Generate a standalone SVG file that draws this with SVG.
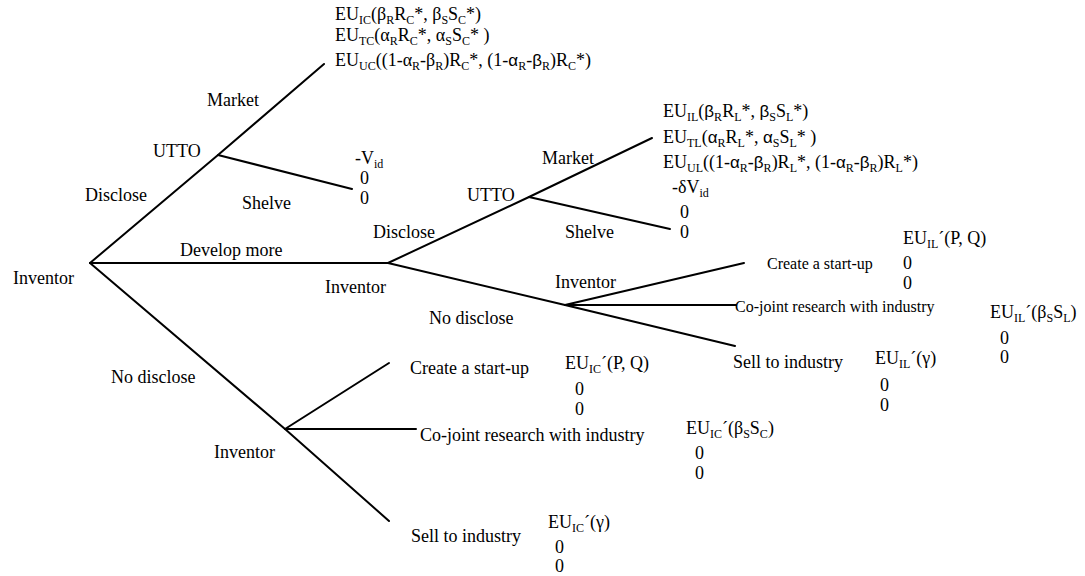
<svg xmlns="http://www.w3.org/2000/svg" width="1085" height="576" viewBox="0 0 1085 576">
<style>
.t{font-family:"Liberation Serif","Times New Roman",serif;font-size:18px;fill:#000}
.sm{font-size:16px}
.b{font-size:12px}
.g{font-family:"Liberation Sans",Arial,sans-serif;font-size:17px}
.e{stroke:#000;stroke-width:2;fill:none;stroke-linecap:round}
</style>
<rect width="1085" height="576" fill="#fff"/>
<g id="connectors">
<path class="e" d="M90,263 L218,155 L324,64"/>
<path class="e" d="M218,155 L352,189"/>
<path class="e" d="M90,263 L388,263"/>
<path class="e" d="M90,263 L285,429 L389,521"/>
<path class="e" d="M285,429 L389,363"/>
<path class="e" d="M285,429 L416,429"/>
<path class="e" d="M388,263 L529,197 L652,138"/>
<path class="e" d="M529,197 L670,229"/>
<path class="e" d="M388,263 L565,305 L735,346"/>
<path class="e" d="M565,305 L744,263"/>
<path class="e" d="M565,305 L736,305"/>
<text class="t" x="85" y="201">Disclose</text>
<text class="t" x="207" y="106">Market</text>
<text class="t" x="242" y="209">Shelve</text>
<text class="t" x="180" y="256">Develop more</text>
<text class="t" x="111" y="383">No disclose</text>
<text class="t" x="373" y="238">Disclose</text>
<text class="t" x="542" y="164">Market</text>
<text class="t" x="565" y="238">Shelve</text>
<text class="t" x="429" y="324">No disclose</text>
<text class="t" x="410" y="374">Create a start-up</text>
<text class="t" x="420" y="441">Co-joint research with industry</text>
<text class="t" x="411" y="542">Sell to industry</text>
<text class="t sm" x="767" y="269">Create a start-up</text>
<text class="t sm" x="735" y="312">Co-joint research with industry</text>
<text class="t" x="733" y="368">Sell to industry</text>
</g>
<g id="n-root"><text class="t" x="13" y="284">Inventor</text></g>
<g id="n-utto1"><text class="t" x="153" y="157">UTTO</text></g>
<g id="n-inv2"><text class="t" x="325" y="293">Inventor</text></g>
<g id="n-inv3"><text class="t" x="214" y="458">Inventor</text></g>
<g id="n-utto2"><text class="t" x="467" y="201">UTTO</text></g>
<g id="n-inv4"><text class="t" x="555" y="288">Inventor</text></g>
<g id="leaf-market1">
<text class="t" x="335" y="20">EU<tspan class="b" dy="4">IC</tspan><tspan dy="-4">(β</tspan><tspan class="b" dy="4">R</tspan><tspan dy="-4">R</tspan><tspan class="b" dy="4">C</tspan><tspan dy="-4">*, β</tspan><tspan class="b" dy="4">S</tspan><tspan dy="-4">S</tspan><tspan class="b" dy="4">C</tspan><tspan dy="-4">*)</tspan></text>
<text class="t" x="335" y="41">EU<tspan class="b" dy="4">TC</tspan><tspan dy="-4">(α</tspan><tspan class="b" dy="4">R</tspan><tspan dy="-4">R</tspan><tspan class="b" dy="4">C</tspan><tspan dy="-4">*, α</tspan><tspan class="b" dy="4">S</tspan><tspan dy="-4">S</tspan><tspan class="b" dy="4">C</tspan><tspan dy="-4">* )</tspan></text>
<text class="t" x="335" y="66">EU<tspan class="b" dy="4">UC</tspan><tspan dy="-4">((1-α</tspan><tspan class="b" dy="4">R</tspan><tspan dy="-4">-β</tspan><tspan class="b" dy="4">R</tspan><tspan dy="-4">)R</tspan><tspan class="b" dy="4">C</tspan><tspan dy="-4">*, (1-</tspan><tspan class="g">α</tspan><tspan class="b" dy="4">R</tspan><tspan dy="-4">-</tspan><tspan class="g">β</tspan><tspan class="b" dy="4">R</tspan><tspan dy="-4">)R</tspan><tspan class="b" dy="4">C</tspan><tspan dy="-4">*)</tspan></text>
</g>
<g id="leaf-shelve1">
<text class="t" x="355" y="164">-V<tspan class="b" dy="4">id</tspan></text>
<text class="t" x="360" y="184">0</text>
<text class="t" x="360" y="204">0</text>
</g>
<g id="leaf-market2">
<text class="t" x="663" y="117">EU<tspan class="b" dy="4">IL</tspan><tspan dy="-4">(</tspan><tspan class="g">β</tspan><tspan class="b" dy="4">R</tspan><tspan dy="-4">R</tspan><tspan class="b" dy="4">L</tspan><tspan dy="-4">*, </tspan><tspan class="g">β</tspan><tspan class="b" dy="4">S</tspan><tspan dy="-4">S</tspan><tspan class="b" dy="4">L</tspan><tspan dy="-4">*)</tspan></text>
<text class="t" x="663" y="143">EU<tspan class="b" dy="4">TL</tspan><tspan dy="-4">(</tspan><tspan class="g">α</tspan><tspan class="b" dy="4">R</tspan><tspan dy="-4">R</tspan><tspan class="b" dy="4">L</tspan><tspan dy="-4">*, </tspan><tspan class="g">α</tspan><tspan class="b" dy="4">S</tspan><tspan dy="-4">S</tspan><tspan class="b" dy="4">L</tspan><tspan dy="-4">* )</tspan></text>
<text class="t" x="663" y="168">EU<tspan class="b" dy="4">UL</tspan><tspan dy="-4">((1-</tspan><tspan class="g">α</tspan><tspan class="b" dy="4">R</tspan><tspan dy="-4">-</tspan><tspan class="g">β</tspan><tspan class="b" dy="4">R</tspan><tspan dy="-4">)R</tspan><tspan class="b" dy="4">L</tspan><tspan dy="-4">*, (1-</tspan><tspan class="g">α</tspan><tspan class="b" dy="4">R</tspan><tspan dy="-4">-</tspan><tspan class="g">β</tspan><tspan class="b" dy="4">R</tspan><tspan dy="-4">)R</tspan><tspan class="b" dy="4">L</tspan><tspan dy="-4">*)</tspan></text>
</g>
<g id="leaf-shelve2">
<text class="t" x="672" y="193">-δV<tspan class="b" dy="4">id</tspan></text>
<text class="t" x="680" y="218">0</text>
<text class="t" x="680" y="238">0</text>
</g>
<g id="leaf-startup-L">
<text class="t" x="903" y="244">EU<tspan class="b" dy="4">IL</tspan><tspan dy="-4">´(P, Q)</tspan></text>
<text class="t" x="903" y="269">0</text>
<text class="t" x="903" y="289">0</text>
</g>
<g id="leaf-cojoint-L">
<text class="t" x="990" y="318">EU<tspan class="b" dy="4">IL</tspan><tspan dy="-4">´(β</tspan><tspan class="b" dy="4">S</tspan><tspan dy="-4">S</tspan><tspan class="b" dy="4">L</tspan><tspan dy="-4">)</tspan></text>
<text class="t" x="1000" y="344">0</text>
<text class="t" x="1000" y="363">0</text>
</g>
<g id="leaf-sell-L">
<text class="t" x="875" y="364">EU<tspan class="b" dy="4">IL</tspan><tspan dy="-4">´(γ)</tspan></text>
<text class="t" x="880" y="391">0</text>
<text class="t" x="880" y="411">0</text>
</g>
<g id="leaf-startup-C">
<text class="t" x="565" y="369">EU<tspan class="b" dy="4">IC</tspan><tspan dy="-4">´(P, Q)</tspan></text>
<text class="t" x="575" y="395">0</text>
<text class="t" x="575" y="415">0</text>
</g>
<g id="leaf-cojoint-C">
<text class="t" x="686" y="434">EU<tspan class="b" dy="4">IC</tspan><tspan dy="-4">´(β</tspan><tspan class="b" dy="4">S</tspan><tspan dy="-4">S</tspan><tspan class="b" dy="4">C</tspan><tspan dy="-4">)</tspan></text>
<text class="t" x="695" y="459">0</text>
<text class="t" x="695" y="479">0</text>
</g>
<g id="leaf-sell-C">
<text class="t" x="548" y="528">EU<tspan class="b" dy="4">IC</tspan><tspan dy="-4">´(γ)</tspan></text>
<text class="t" x="555" y="553">0</text>
<text class="t" x="555" y="572">0</text>
</g>
</svg>
